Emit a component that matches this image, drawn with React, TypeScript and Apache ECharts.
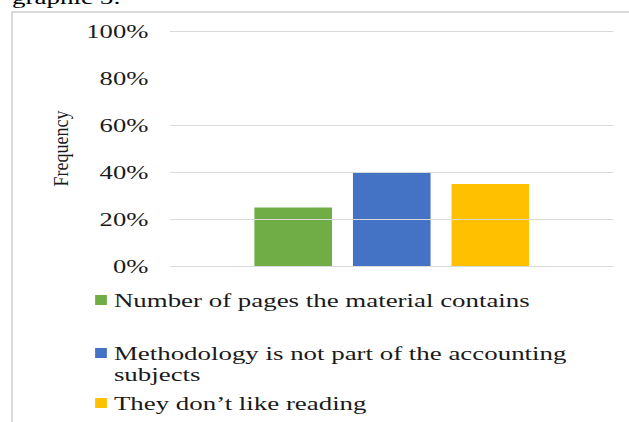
import React, { useEffect, useRef } from "react";
import * as echarts from "echarts";

// ---- data ----
const categories = [""];
const seriesNames = [
  "Number of pages the material contains",
  "Methodology is not part of the accounting subjects",
  "They don’t like reading",
];
const seriesValues = [25, 40, 35];
const gridValues = [0, 20, 40, 60, 100];
const yTickMin = 0;
const yTickMax = 100;
const yTickStep = 20;
const axisTitle = "Frequency";
const pageTitle = "graphic 5:";

// ---- style ----
const palette = ["#70AD47", "#4472C4", "#FFC000"];
const W = 449;
const H = 422;
const S = 629 / W; // horizontal stretch of the reference
const FONT = "'Liberation Serif', 'Times New Roman', serif";

export default function App() {
  const ref = useRef<HTMLDivElement>(null);

  useEffect(() => {
    if (!ref.current) return;
    const chart = echarts.init(ref.current, undefined, { renderer: "svg" });

    const isWrapped = (name: string) => name.indexOf(" subjects") >= 0;
    const legendTops = [289.5, 321.5, 392.5];
    const legends = seriesNames.map((name, i) => ({
      show: true,
      orient: "vertical",
      left: 67.9,
      top: legendTops[i],
      padding: 0,
      itemWidth: 8.4,
      itemHeight: 10,
      icon: "rect",
      data: [name],
      // a blank leading line keeps the marker level with the first text line
      formatter: (n: string) =>
        isWrapped(n) ? "\n" + n.replace(" subjects", "\nsubjects") : n,
      textStyle: {
        fontFamily: FONT,
        fontSize: 19.2,
        color: "#1a1a1a",
        lineHeight: 21,
      },
      selectedMode: false,
    }));

    chart.setOption({
      animation: false,
      backgroundColor: "#ffffff",
      grid: { left: 121.4, right: W - 437.9, top: 31, bottom: H - 266.3, containLabel: false },
      legend: legends,
      xAxis: {
        type: "category",
        data: categories,
        axisLine: { show: false },
        axisTick: { show: false },
        axisLabel: { show: false },
        splitLine: { show: false },
      },
      yAxis: {
        type: "value",
        min: yTickMin,
        max: yTickMax,
        interval: yTickStep,
        axisLine: { show: false },
        axisTick: { show: false },
        splitLine: { show: false },
        axisLabel: {
          formatter: "{value}%",
          fontFamily: FONT,
          fontSize: 19,
          color: "#1a1a1a",
          margin: 15.5,
        },
      },
      series: [
        {
          type: "line",
          name: "__grid",
          data: [],
          z: 1,
          silent: true,
          markLine: {
            silent: true,
            symbol: "none",
            label: { show: false },
            lineStyle: { color: "#d9d9d9", width: 1.2, type: "solid" },
            data: gridValues.map((v) => ({ yAxis: v })),
          },
        },
        ...seriesNames.map((name, i) => ({
          type: "bar",
          name,
          data: [seriesValues[i]],
          barWidth: 55.4,
          barGap: "27%",
          z: 3,
          itemStyle: { color: palette[i] },
        })),
      ],
      graphic: [
        {
          type: "rect",
          shape: { x: 7.9, y: 11, width: W - 7.9, height: 2 },
          style: { fill: "#d9d9d9" },
          silent: true,
        },
        {
          type: "rect",
          shape: { x: 7.9, y: 11, width: 1.43, height: H - 11 },
          style: { fill: "#d9d9d9" },
          silent: true,
        },
        {
          type: "text",
          x: 8.6,
          y: -2.5,
          silent: true,
          style: {
            text: pageTitle,
            font: `19.3px ${FONT}`,
            fill: "#000",
            align: "left",
            verticalAlign: "middle",
            textAlign: "left",
            textVerticalAlign: "middle",
          },
        },
        {
          type: "text",
          x: 60 / S,
          y: 148.5,
          rotation: Math.PI / 2,
          scaleY: 0.85,
          silent: true,
          style: {
            text: axisTitle,
            font: `18px ${FONT}`,
            fill: "#1a1a1a",
            align: "center",
            verticalAlign: "middle",
            textAlign: "center",
            textVerticalAlign: "middle",
          },
        },
      ],
    });

    return () => chart.dispose();
  }, []);

  return (
    <div
      ref={ref}
      style={{
        position: "absolute",
        left: 0,
        top: 0,
        width: W,
        height: H,
        transform: `scaleX(${S})`,
        transformOrigin: "0 0",
        background: "#fff",
      }}
    />
  );
}
